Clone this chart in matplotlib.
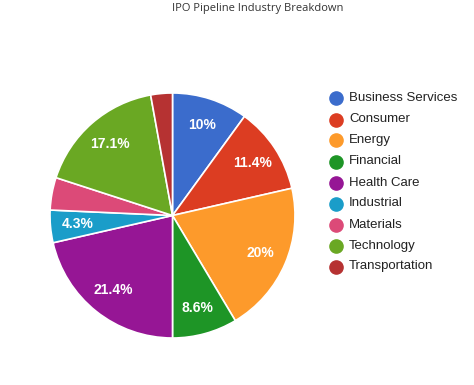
import matplotlib
matplotlib.use('Agg')
import numpy as np
import matplotlib.pyplot as plt
from matplotlib.lines import Line2D

# data (companies per industry, out of 70)
industries = ['Business Services', 'Consumer', 'Energy', 'Financial', 'Health Care',
              'Industrial', 'Materials', 'Technology', 'Transportation']
counts = [7, 8, 14, 6, 15, 3, 3, 12, 2]
colors = ['#3b6ccc', '#dc3d22', '#fd9a2b', '#1e9526', '#961695',
          '#1a9dc9', '#dc4a78', '#6aa823', '#b63232']
# google hides some slice labels
show_label = [True, True, True, True, True, True, False, True, False]

W, H = 474, 385
fig = plt.figure(figsize=(W / 100, H / 100), dpi=100)

# pie centre (172.5, 215.5) px from top-left, radius 122.5 px
cx, cy, r = 172.5, 215.5, 122.5
ax = fig.add_axes([(cx - r) / W, (H - cy - r) / H, 2 * r / W, 2 * r / H])
wedges, _ = ax.pie(counts, colors=colors, startangle=90, counterclock=False,
                   radius=1.0, wedgeprops=dict(edgecolor='white', linewidth=1.2))
ax.set_xlim(-1, 1)
ax.set_ylim(-1, 1)
ax.set_aspect('equal')
ax.axis('off')

total = float(sum(counts))
for w, c, show in zip(wedges, counts, show_label):
    if not show:
        continue
    mid = np.deg2rad((w.theta1 + w.theta2) / 2)
    pct = 100 * c / total
    txt = '%.1f%%' % pct
    if txt.endswith('.0%'):
        txt = txt[:-3] + '%'
    ax.text(0.78 * np.cos(mid), 0.78 * np.sin(mid), txt, ha='center', va='center',
            color='white', fontsize=10, fontweight='bold', family='Liberation Sans')

fig.text(258 / W, 1 - 8 / H, 'IPO Pipeline Industry Breakdown', ha='center', va='center',
         fontsize=8, color='#333333', family='Open Sans')

# legend
for i, (name, col) in enumerate(zip(industries, colors)):
    y = 1 - (98.5 + 21 * i) / H
    fig.add_artist(Line2D([336 / W], [y], marker='o', markersize=9.5, color=col,
                          linestyle='none', transform=fig.transFigure))
    fig.text(349 / W, y, name, ha='left', va='center', fontsize=9.5,
             color='#222222', family='Liberation Sans')

fig.savefig('out.png', dpi=100)
